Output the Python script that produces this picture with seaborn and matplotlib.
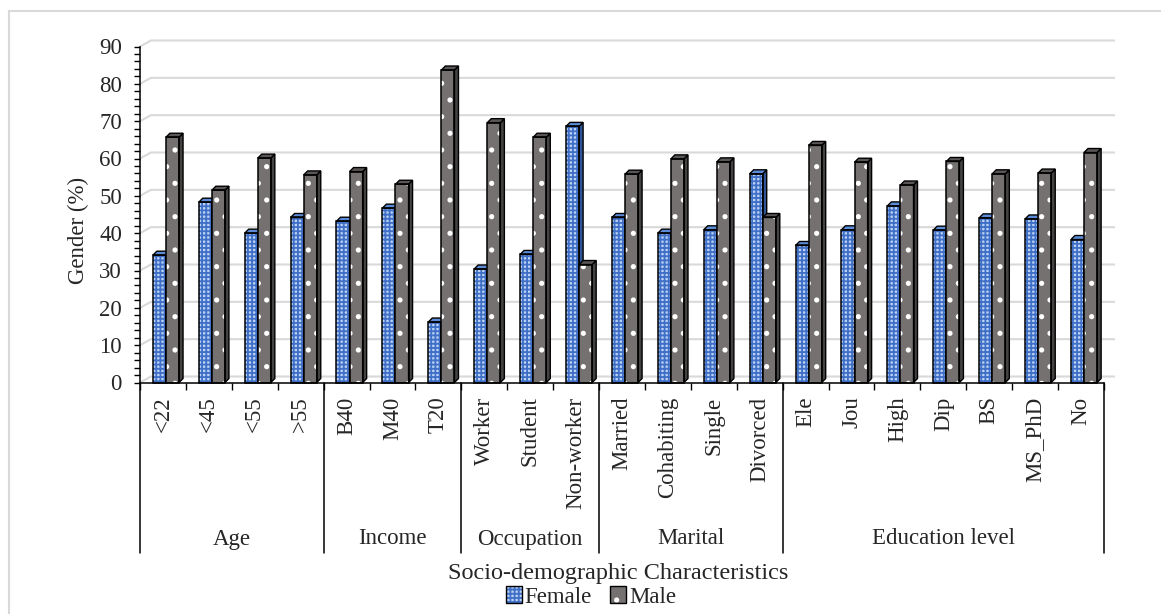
import numpy as np
import pandas as pd
import matplotlib
matplotlib.use("Agg")
import matplotlib.pyplot as plt
import seaborn as sns
from matplotlib.patches import Rectangle, Polygon, Patch
from matplotlib.lines import Line2D
from matplotlib.ticker import MultipleLocator
from matplotlib.transforms import blended_transform_factory
from matplotlib.legend_handler import HandlerTuple

# ---- data -------------------------------------------------------------
groups = ["Age", "Income", "Occupation", "Marital", "Education level"]
group_sizes = [4, 3, 3, 4, 7]
categories = ["<22", "<45", "<55", ">55",
              "B40", "M40", "T20",
              "Worker", "Student", "Non-worker",
              "Married", "Cohabiting", "Single", "Divorced",
              "Ele", "Jou", "High", "Dip", "BS", "MS_PhD", "No"]
female = [34.1, 48.3, 40.0, 44.2, 43.2, 46.7, 16.2, 30.4, 34.3, 68.6, 44.2,
          40.0, 40.9, 55.9, 36.7, 40.9, 47.3, 40.8, 44.1, 43.8, 38.3]
male = [65.7, 51.5, 60.1, 55.6, 56.5, 53.1, 83.7, 69.6, 65.7, 31.6, 55.8,
        59.9, 59.1, 44.2, 63.5, 59.0, 52.9, 59.2, 55.9, 56.1, 61.6]
yticks = list(range(0, 91, 10))
genders = ["Female", "Male"]

# ---- styling ----------------------------------------------------------
sns.set_theme(style="white")
plt.rcParams["font.family"] = ["Liberation Serif", "DejaVu Serif"]
plt.rcParams["hatch.linewidth"] = 1.3
FS = 16.5

FEM_FACE, FEM_HATCH = "#bcd2f4", "#3f6fc6"
FEM_SIDE, FEM_TOP = "#2f5597", "#5b8bd6"
MAL_FACE, MAL_HATCH = "#767171", "white"
MAL_SIDE, MAL_TOP = "#454242", "#5a5656"
GRID = "#d9d9d9"

W, H, DPI = 1161, 614, 100
fig = plt.figure(figsize=(W / DPI, H / DPI), dpi=DPI)
X0, X1 = 140, 1104          # front x-axis extent (px)
Y0, Y1 = 382.5, 46.5        # front y of 0 and 90 (px)
ax = fig.add_axes([X0 / W, 1 - Y0 / H, (X1 - X0) / W, (Y0 - Y1) / H])

df = pd.DataFrame({
    "Characteristic": categories * 2,
    "Gender": ["Female"] * len(female) + ["Male"] * len(male),
    "Percent": female + male,
})
sns.barplot(data=df, x="Characteristic", y="Percent", hue="Gender",
            order=categories, hue_order=genders,
            palette=[FEM_FACE, MAL_FACE], saturation=1, width=0.57,
            legend=False, errorbar=None, ax=ax)

n = len(categories)
ax.set_xlim(-0.5, n - 0.5)
ax.set_ylim(0, 90)
kx = (X1 - X0) / n          # px per category
ky = (Y0 - Y1) / 90         # px per percent

# back-wall gridlines with the short perspective diagonal at the left
ox, oy = 11 / kx, 6 / ky
for v in yticks:
    ax.plot([-0.5, -0.5 + ox, n - 0.5 + ox], [v, v + oy, v + oy],
            color=GRID, lw=1.5, zorder=0.5, clip_on=False,
            solid_capstyle="butt")

# 3-D look for the bars: shift, hatch, side face, top face, outline
bars = sorted(ax.patches, key=lambda p: p.get_x())
dx, dy = 4 / kx, 4 / ky
shift = 3 / kx
for rank, bar in enumerate(bars):
    is_f = rank % 2 == 0
    z = 3 + rank * 0.01
    bar.set_x(bar.get_x() + shift)
    x, w, h = bar.get_x(), bar.get_width(), bar.get_height()
    bar.set_edgecolor(FEM_HATCH if is_f else MAL_HATCH)
    bar.set_linewidth(0)
    bar.set_hatch("++++" if is_f else ".")
    bar.set_zorder(z)
    side = Polygon([(x + w, 0), (x + w, h), (x + w + dx, h + dy), (x + w + dx, dy)],
                   closed=True, facecolor=FEM_SIDE if is_f else MAL_SIDE,
                   edgecolor="black", lw=1.0, zorder=z + 0.001, clip_on=False)
    top = Polygon([(x, h), (x + w, h), (x + w + dx, h + dy), (x + dx, h + dy)],
                  closed=True, facecolor=FEM_TOP if is_f else MAL_TOP,
                  edgecolor="black", lw=1.0, zorder=z + 0.002, clip_on=False)
    outline = Rectangle((x, 0), w, h, fill=False, edgecolor="black",
                        lw=1.1, zorder=z + 0.003, clip_on=False)
    for art in (side, top, outline):
        ax.add_patch(art)

# axes, ticks and labels
for s in ("top", "right"):
    ax.spines[s].set_visible(False)
for s in ("left", "bottom"):
    ax.spines[s].set_color("black")
    ax.spines[s].set_linewidth(1.1)
    ax.spines[s].set_zorder(5)

ax.set_yticks(yticks)
ax.yaxis.set_minor_locator(MultipleLocator(2))
ax.tick_params(axis="y", which="both", left=True, direction="out",
               length=4, width=1, color="black", labelsize=FS, pad=9)
ax.set_xticks(range(n))
ax.set_xticklabels(categories, rotation=90, fontsize=FS)
ax.set_xticks(np.arange(-0.5, n, 1), minor=True)
ax.tick_params(axis="x", which="major", bottom=True, length=0, pad=10)
ax.tick_params(axis="x", which="minor", bottom=True, direction="out",
               length=5, width=1, color="black")

ax.set_ylabel("Gender (%)", fontsize=FS)
ax.yaxis.set_label_coords((78 - X0) / (X1 - X0), (Y0 - 230) / (Y0 - Y1))
ax.yaxis.label.set_va("center")
ax.set_xlabel("Socio-demographic Characteristics", fontsize=17.5)
ax.xaxis.set_label_coords((618 - X0) / (X1 - X0), (Y0 - 573) / (Y0 - Y1))
ax.xaxis.label.set_va("center")

# grouped category axis
trans = blended_transform_factory(ax.transData, ax.transAxes)
bounds = np.concatenate([[0], np.cumsum(group_sizes)]) - 0.5
y_sep = (Y0 - 553) / (Y0 - Y1)
y_grp = (Y0 - 539) / (Y0 - Y1)
for b in bounds:
    ax.add_line(Line2D([b, b], [0, y_sep], transform=trans, color="black",
                       lw=1.1, clip_on=False))
for name, a, b in zip(groups, bounds[:-1], bounds[1:]):
    ax.text((a + b) / 2, y_grp, name, transform=trans, ha="center",
            va="center", fontsize=FS)

# legend
fem_handle = (Patch(facecolor=FEM_FACE, edgecolor=FEM_HATCH, hatch="++++", lw=0),
              Patch(fill=False, edgecolor="black", lw=1.0))
mal_handle = (Patch(facecolor=MAL_FACE, edgecolor=MAL_HATCH, hatch=".", lw=0),
              Patch(fill=False, edgecolor="black", lw=1.0))
fig.legend([fem_handle, mal_handle], genders,
           handler_map={tuple: HandlerTuple(ndivide=1, pad=0)},
           loc="center", bbox_to_anchor=(591 / W, 1 - 597 / H), ncol=2,
           frameon=False, fontsize=FS, handlelength=0.7, handleheight=0.7,
           handletextpad=0.12, columnspacing=0.8, borderpad=0)

# chart-area border
fig.add_artist(Line2D([8.5 / W, 8.5 / W], [0, 1 - 10.5 / H],
                      transform=fig.transFigure, color=GRID, lw=1.5))
fig.add_artist(Line2D([8.5 / W, 1], [1 - 10.5 / H, 1 - 10.5 / H],
                      transform=fig.transFigure, color=GRID, lw=1.5))

fig.savefig("out.png", dpi=DPI, facecolor="white")
